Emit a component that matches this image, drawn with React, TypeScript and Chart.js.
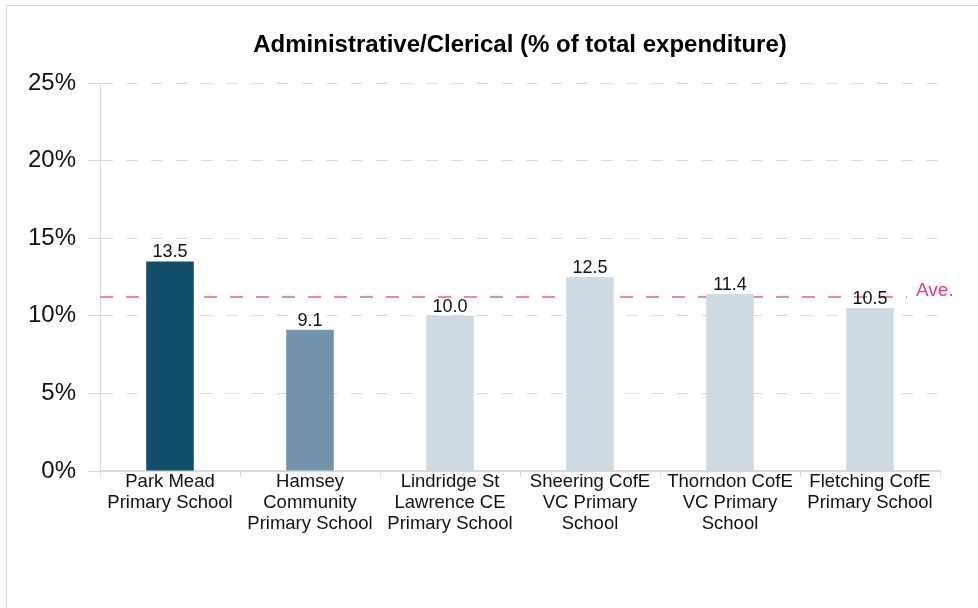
import React, { useEffect, useRef } from "react";
import { Chart, registerables } from "chart.js";

Chart.register(...registerables);

const TITLE = "Administrative/Clerical (% of total expenditure)";
const categories: string[][] = [
  ["Park Mead", "Primary School"],
  ["Hamsey", "Community", "Primary School"],
  ["Lindridge St", "Lawrence CE", "Primary School"],
  ["Sheering CofE", "VC Primary", "School"],
  ["Thorndon CofE", "VC Primary", "School"],
  ["Fletching CofE", "Primary School"],
];
const values = [13.5, 9.1, 10.0, 12.5, 11.4, 10.5];
const barColors = ["#124e69", "#7094ad", "#cfdbe3", "#cfdbe3", "#cfdbe3", "#cfdbe3"];
const average = 11.2;
const averageLabel = "Ave.";
const yTicks = [0, 5, 10, 15, 20, 25];

const FONT = "'Liberation Sans', Arial, sans-serif";

const overlayPlugin = {
  id: "overlay",
  beforeDraw(chart: any) {
    const ctx = chart.ctx;
    ctx.save();
    ctx.fillStyle = "#ffffff";
    ctx.fillRect(0, 0, chart.width, chart.height);
    ctx.strokeStyle = "#d9d9d9";
    ctx.lineWidth = 1;
    ctx.strokeRect(6.5, 5.5, chart.width + 10, chart.height + 10);
    ctx.fillStyle = "#000000";
    ctx.font = `bold 24px ${FONT}`;
    ctx.textAlign = "center";
    ctx.textBaseline = "middle";
    const ca = chart.chartArea;
    ctx.fillText(TITLE, (ca.left + ca.right) / 2, 45);
    ctx.restore();
  },
  beforeDatasetsDraw(chart: any) {
    const ctx = chart.ctx;
    const y = Math.round(chart.scales.y.getPixelForValue(average));
    const ca = chart.chartArea;
    ctx.save();
    ctx.strokeStyle = "#f05aa3";
    ctx.lineWidth = 1.5;
    ctx.setLineDash([13, 13]);
    ctx.beginPath();
    ctx.moveTo(ca.left, y);
    ctx.lineTo(ca.right - 33, y);
    ctx.stroke();
    ctx.setLineDash([]);
    ctx.fillStyle = "#e8388f";
    ctx.font = `19px ${FONT}`;
    ctx.textAlign = "left";
    ctx.textBaseline = "middle";
    ctx.fillText(averageLabel, ca.right - 24, y - 6);
    ctx.restore();
  },
  afterDatasetsDraw(chart: any) {
    const ctx = chart.ctx;
    const meta = chart.getDatasetMeta(0);
    ctx.save();
    ctx.fillStyle = "#111111";
    ctx.font = `18px ${FONT}`;
    ctx.textAlign = "center";
    ctx.textBaseline = "alphabetic";
    meta.data.forEach((bar: any, i: number) => {
      ctx.fillText(values[i].toFixed(1), bar.x, bar.y - 4);
    });
    ctx.restore();
  },
};

export default function App() {
  const ref = useRef<HTMLCanvasElement | null>(null);
  useEffect(() => {
    if (!ref.current) return;
    const chart = new Chart(ref.current, {
      type: "bar",
      data: {
        labels: categories,
        datasets: [
          {
            data: values,
            backgroundColor: barColors,
            barPercentage: 0.34,
            categoryPercentage: 1,
          },
        ],
      },
      options: {
        animation: false,
        responsive: false,
        devicePixelRatio: 1,
        layout: { padding: { left: 0, right: 38, top: 83, bottom: 0 } },
        plugins: {
          legend: { display: false },
          title: { display: false },
          tooltip: { enabled: false },
        },
        scales: {
          x: {
            offset: true,
            grid: {
              offset: true,
              drawOnChartArea: false,
              drawTicks: true,
              tickLength: 6,
              color: "#d9d9d9",
            },
            border: { display: true, color: "#d9d9d9", width: 2 },
            ticks: {
              color: "#111111",
              font: { family: FONT, size: 18.5, lineHeight: 1.14 },
              padding: -6,
              maxRotation: 0,
              autoSkip: false,
            },
            afterFit(scale: any) {
              scale.height = 137;
            },
          },
          y: {
            min: 0,
            max: 25,
            afterBuildTicks(scale: any) {
              scale.ticks = yTicks.map((v) => ({ value: v }));
            },
            grid: {
              color: "#d9d9d9",
              tickBorderDash: [12, 13],
              tickLength: 12,
              drawTicks: true,
            },
            border: { display: true, color: "#d9d9d9", dash: [12, 13] },
            ticks: {
              color: "#111111",
              font: { family: FONT, size: 24 },
              padding: 12,
              callback: (v: any) => `${v}%`,
            },
            afterFit(scale: any) {
              scale.width = 100;
            },
          },
        },
      } as any,
      plugins: [overlayPlugin],
    });
    return () => chart.destroy();
  }, []);
  return (
    <div style={{ position: "fixed", left: 0, top: 0, width: 978, height: 608, background: "#fff" }}>
      <canvas ref={ref} width={978} height={608} style={{ width: 978, height: 608 }} />
    </div>
  );
}
